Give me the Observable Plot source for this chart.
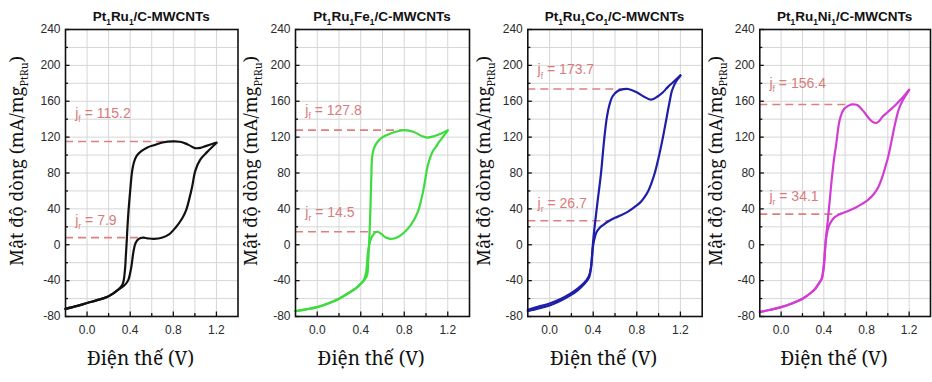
<!DOCTYPE html>
<html><head><meta charset="utf-8">
<script src="https://cdn.jsdelivr.net/npm/d3@7"></script>
<script src="https://cdn.jsdelivr.net/npm/@observablehq/plot@0.6"></script>
<style>
body{margin:0;background:#fff}
#chart{position:relative;width:932px;height:382px;overflow:hidden;background:#fff}
#chart svg{position:absolute;top:0}
</style></head><body><div id="chart"></div>
<script>
// ---------- data ----------
const titles = ["Pt_1Ru_1/C-MWCNTs", "Pt_1Ru_1Fe_1/C-MWCNTs", "Pt_1Ru_1Co_1/C-MWCNTs", "Pt_1Ru_1Ni_1/C-MWCNTs"];
const colors = ["#111111", "#3ddc3d", "#1e1ea8", "#d23cd2"];
const jfValues = [115.2, 127.8, 173.7, 156.4];
const jrValues = [7.9, 14.5, 26.7, 34.1];
const xTickValues = [0, 0.4, 0.8, 1.2];
const yTickValues = [-80, -40, 0, 40, 80, 120, 160, 200, 240];
const xGridValues = [0, 0.2, 0.4, 0.6, 0.8, 1.0, 1.2];
const yGridValues = [-60, -40, -20, 0, 20, 40, 60, 80, 100, 120, 140, 160, 180, 200, 220];
const xMinorTicks = [0.2, 0.6, 1.0];
const yMinorTicks = [-60, -20, 20, 60, 100, 140, 180, 220];
const yLabel = "Mật độ dòng (mA/mg_{PtRu})";
const xLabel = "Điện thế (V)";

// Pt1Ru1 (black)
const ptRuUpper = [[-0.2,-71.5],[-0.1,-68.5],[0.0,-65],[0.1,-61.5],[0.19,-58],[0.29,-50],[0.33,-44],[0.35,-30],[0.36,-12],[0.366,0],[0.38,30],[0.40,60],[0.418,82],[0.435,92],[0.46,99],[0.50,104],[0.56,108.5],[0.62,111],[0.70,114],[0.80,115.2],[0.86,114.8],[0.91,113],[0.95,110.8],[1.0,107.8],[1.05,108],[1.1,110],[1.2,114]];
const ptRuLower = [[-0.2,-71.5],[-0.1,-68.5],[0.0,-65],[0.1,-61.5],[0.19,-58],[0.29,-50],[0.34,-46],[0.38,-40],[0.41,-25],[0.43,-8],[0.45,2],[0.48,6.5],[0.52,7.9],[0.56,7.2],[0.62,6.5],[0.70,8],[0.76,11.5],[0.82,19],[0.88,29],[0.92,39],[0.95,52],[0.975,65],[1.005,83],[1.05,95],[1.11,103],[1.2,113.5]];
// Pt1Ru1Fe1 (green)
const feUpper = [[-0.2,-74],[-0.1,-72],[0.0,-69.5],[0.1,-65.5],[0.2,-60.2],[0.3,-53],[0.36,-48],[0.4,-43.5],[0.43,-40],[0.458,-34],[0.47,-15],[0.48,10],[0.49,45],[0.497,75],[0.505,98],[0.52,107],[0.55,114],[0.6,120],[0.674,124],[0.75,126.8],[0.8,127.8],[0.889,125.7],[0.966,120.9],[1.013,119.5],[1.074,121],[1.14,124],[1.2,127.8]];
const feLower = [[-0.2,-74],[-0.1,-72],[0.0,-69.5],[0.1,-65.5],[0.2,-60.2],[0.3,-53],[0.36,-48],[0.4,-43.5],[0.43,-39],[0.45,-30],[0.465,-10],[0.48,1],[0.5,8],[0.53,13.5],[0.555,14.5],[0.585,12.5],[0.63,8],[0.674,6.5],[0.72,7.5],[0.766,10.4],[0.81,15],[0.858,21.6],[0.9,30],[0.935,40.3],[0.96,52],[0.981,64.3],[1.0,78],[1.013,86.7],[1.035,96],[1.059,103.4],[1.09,109],[1.12,114.6],[1.16,121],[1.2,127.2]];
// Pt1Ru1Co1 (blue)
const coUpper = [[-0.2,-74],[-0.1,-71],[0.0,-67.7],[0.1,-62.5],[0.19,-56.5],[0.26,-50.5],[0.32,-43.5],[0.36,-37],[0.375,-30],[0.39,-12],[0.40,5],[0.434,42],[0.471,79],[0.50,116.5],[0.526,142.5],[0.548,155.5],[0.578,165.6],[0.625,171.5],[0.68,173.5],[0.72,173.7],[0.794,170.4],[0.871,164.8],[0.932,161.8],[0.994,165.6],[1.04,170],[1.086,176],[1.14,182],[1.2,189]];
const coLower = [[-0.2,-72.5],[-0.1,-69],[0.0,-65.5],[0.1,-60.5],[0.19,-54.5],[0.26,-48.5],[0.32,-42],[0.36,-35],[0.38,-25],[0.395,-5],[0.41,6],[0.43,14],[0.46,19],[0.49,22],[0.548,26.7],[0.6,30],[0.655,32.8],[0.72,37],[0.778,42],[0.83,47],[0.871,53.2],[0.905,60],[0.932,68],[0.965,80],[0.994,94],[1.02,108],[1.04,120],[1.065,136],[1.086,150],[1.105,162],[1.123,172],[1.16,182],[1.2,188.5]];
// Pt1Ru1Ni1 (magenta)
const niUpper = [[-0.2,-75],[-0.1,-72.5],[0.0,-69.6],[0.1,-65.5],[0.2,-60.2],[0.28,-53.5],[0.32,-49],[0.36,-42],[0.38,-38],[0.40,-25],[0.418,5],[0.44,30],[0.47,68],[0.495,95],[0.517,112.7],[0.535,130],[0.548,138.8],[0.57,147],[0.594,151.8],[0.655,156.3],[0.69,156.4],[0.717,155.5],[0.778,148],[0.83,140],[0.865,136.5],[0.892,135.8],[0.92,138],[0.948,142.5],[1.0,148],[1.07,155.5],[1.13,163],[1.2,173]];
const niLower = [[-0.2,-75],[-0.1,-72.5],[0.0,-69.6],[0.1,-65.5],[0.2,-60.2],[0.28,-53.5],[0.32,-49],[0.36,-42],[0.38,-38],[0.40,-22],[0.415,0],[0.425,10],[0.445,20],[0.47,26],[0.50,30.5],[0.548,34.1],[0.58,35.5],[0.64,38.3],[0.70,41.5],[0.763,45.8],[0.82,50.5],[0.871,56.9],[0.91,64],[0.948,75.5],[0.98,88],[1.01,101.6],[1.035,116],[1.055,127.6],[1.08,141],[1.10,150],[1.14,161],[1.2,172.5]];

const upperSeries = [ptRuUpper, feUpper, coUpper, niUpper];
const lowerSeries = [ptRuLower, feLower, coLower, niLower];

// ---------- layout ----------
const layout = [
  {left: 0,   width: 240, ml: 65,   mr: 2.5, ylx: 17, jfEnd: 0.75,  jrEnd: 0.54,  jfLab: 146, jrLab: 27},
  {left: 230, width: 242, ml: 65,   mr: 3,   ylx: 21, jfEnd: 0.81,  jrEnd: 0.566, jfLab: 150, jrLab: 36},
  {left: 462, width: 242, ml: 65.3, mr: 2.3, ylx: 22, jfEnd: 0.717, jrEnd: 0.548, jfLab: 195, jrLab: 46},
  {left: 694, width: 238, ml: 65.3, mr: 2,   ylx: 22, jfEnd: 0.686, jrEnd: 0.548, jfLab: 180, jrLab: 54}
];
const serifFont = "'Noto Serif', 'DejaVu Serif', serif";

function rich(sel, str, fs, subScale, shiftFrac) {
  sel.text(null);
  const re = /_\{([^}]*)\}|_(.)/g;
  let last = 0, m, shift = 0;
  const add = (t, sub) => {
    const ts = sel.append("tspan").text(t);
    const target = sub ? fs * shiftFrac : 0;
    if (target !== shift) ts.attr("dy", target - shift);
    shift = target;
    if (sub) ts.style("font-size", (fs * subScale) + "px");
  };
  while ((m = re.exec(str))) {
    if (m.index > last) add(str.slice(last, m.index), false);
    add(m[1] !== undefined ? m[1] : m[2], true);
    last = re.lastIndex;
  }
  if (last < str.length) add(str.slice(last), false);
}

const chart = document.getElementById("chart");

layout.forEach((L, i) => {
  const curve = [
    ...upperSeries[i].map(([v, j]) => ({v, j, b: "upper"})),
    ...lowerSeries[i].map(([v, j]) => ({v, j, b: "lower"}))
  ];
  const annot = [
    {value: jfValues[i], end: L.jfEnd, lab: L.jfLab, text: `j_f = ${jfValues[i]}`},
    {value: jrValues[i], end: L.jrEnd, lab: L.jrLab, text: `j_r = ${jrValues[i]}`}
  ];
  const plot = Plot.plot({
    width: L.width, height: 382,
    marginTop: 29, marginBottom: 66, marginLeft: L.ml, marginRight: L.mr,
    style: {fontFamily: "Arial,'Liberation Sans',sans-serif", fontSize: "12px", color: "#2a2a2a", background: "transparent"},
    x: {domain: [-0.2, 1.4]},
    y: {domain: [-80, 240]},
    marks: [
      Plot.ruleX(xGridValues, {stroke: "#d6d6d6", strokeWidth: 1}),
      Plot.ruleY(yGridValues, {stroke: "#d6d6d6", strokeWidth: 1}),
      Plot.ruleY(annot, {y: "value", x1: -0.2, x2: "end", stroke: "#de8080", strokeWidth: 1.6, strokeDasharray: "8,5"}),
      Plot.line(curve, {x: "v", y: "j", z: "b", stroke: colors[i], strokeWidth: 2.2, curve: "catmull-rom"}),
      Plot.text(annot, {x: -0.11, y: "lab", text: "text", textAnchor: "start", fill: "#d97c7c", fontSize: 14}),
      Plot.ruleX(xTickValues, {y1: -80, y2: -75, stroke: "#111", strokeWidth: 1.3}),
      Plot.ruleX(xMinorTicks, {y1: -80, y2: -76.7, stroke: "#111", strokeWidth: 1.3}),
      Plot.ruleY(yTickValues, {x1: -0.2, x2: -0.158, stroke: "#111", strokeWidth: 1.3}),
      Plot.ruleY(yMinorTicks, {x1: -0.2, x2: -0.172, stroke: "#111", strokeWidth: 1.3}),
      Plot.axisX({ticks: xTickValues, tickSize: 0, tickPadding: 9, tickFormat: d => d.toFixed(1), label: null}),
      Plot.axisY({ticks: yTickValues, tickSize: 0, tickPadding: 5, tickFormat: d => String(d), label: null}),
      Plot.frame({stroke: "#111", strokeWidth: 1.6})
    ]
  });
  plot.style.left = L.left + "px";
  chart.appendChild(plot);
  const svg = d3.select(plot);
  svg.selectAll("text").each(function () {
    const t = this.textContent;
    if (/^j_[fr] = /.test(t) && this.children.length === 0) rich(d3.select(this), t, 14, 0.62, 0.3);
  });
  const sx = plot.scale("x");
  const title = svg.append("text")
    .attr("x", (L.ml + L.width - L.mr) / 2).attr("y", 20.5)
    .attr("text-anchor", "middle")
    .style("font-family", "Arial, 'Liberation Sans', sans-serif")
    .style("font-weight", "bold").style("font-size", "13.5px").attr("fill", "#111");
  rich(title, titles[i], 13.5, 0.62, 0.3);
  const yl = svg.append("text")
    .attr("transform", `translate(${L.ylx},161) rotate(-90)`)
    .attr("text-anchor", "middle").attr("dy", "0.35em")
    .style("font-family", serifFont)
    .style("font-size", "18px").attr("fill", "#111");
  rich(yl, yLabel, 18, 0.6, 0.28);
  svg.append("text")
    .attr("x", sx.apply(0.5)).attr("y", 365)
    .attr("text-anchor", "middle")
    .style("font-family", serifFont)
    .style("font-size", "19px").attr("fill", "#111").text(xLabel);
});
</script>
</body></html>
